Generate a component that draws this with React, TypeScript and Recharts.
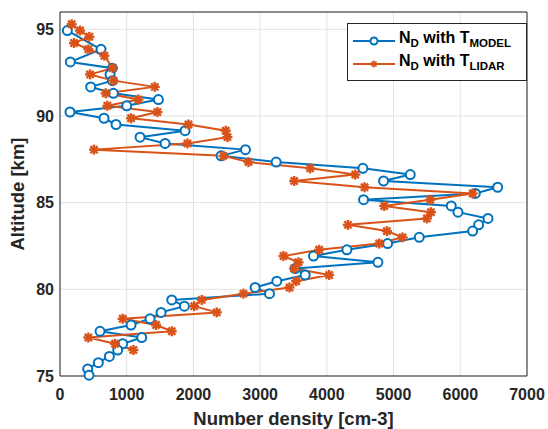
import React from 'react';
import { LineChart, Line, XAxis, YAxis, CartesianGrid, ReferenceArea } from 'recharts';

// altitude grid (km), top to bottom
const altitudes = [
  95.29, 94.93, 94.57, 94.21, 93.85, 93.48, 93.12, 92.76, 92.4, 92.04,
  91.68, 91.31, 90.95, 90.59, 90.23, 89.87, 89.51, 89.15, 88.78, 88.42,
  88.06, 87.7, 87.34, 86.98, 86.62, 86.25, 85.89, 85.53, 85.17, 84.81,
  84.45, 84.09, 83.72, 83.36, 83.0, 82.64, 82.28, 81.92, 81.56, 81.2,
  80.83, 80.47, 80.11, 79.75, 79.39, 79.03, 78.67, 78.3, 77.94, 77.58,
  77.22, 76.86, 76.5, 76.13, 75.77, 75.41, 75.05,
];

// N_D with T_MODEL
const densityModel = [
  null, 110, null, null, 615, null, 155, 785, 750, 785,
  460, 800, 1475, 1000, 150, 660, 840, 1875, 1200, 1575,
  2780, 2415, 3240, 4540, 5250, 4850, 6560, 6225, 4550, 5865,
  5965, 6415, 6275, 6185, 5385, 4910, 4300, 3800, 4765, 3525,
  3675, 3250, 2925, 3140, 1675, 1865, 1515, 1350, 1065, 600,
  1225, 940, 865, 740, 575, 415, 435,
];

// N_D with T_LIDAR
const densityLidar = [
  175, 300, 440, 210, 425, 665, null, 790, 450, 800,
  1420, 685, 1175, 710, 1460, 1065, 1925, 2485, 2510, 1910,
  510, 2450, 2825, 3750, 4425, 3510, 4565, 6185, 5550, 4860,
  5560, 5500, 4315, 4900, 5135, 4785, 3885, 3350, 3575, 3510,
  4035, 3540, 3440, 2750, 2125, 2010, 2350, 940, 1440, 1675,
  425, 825, 1100, null, null, null, null,
];

const xTicks = [0, 1000, 2000, 3000, 4000, 5000, 6000, 7000];
const yTicks = [75, 80, 85, 90, 95];

const BLUE = '#0072BD';
const ORANGE = '#D95319';
const INK = '#262626';

const data = altitudes.map((alt, i) => ({
  alt,
  model: densityModel[i],
  lidar: densityLidar[i],
}));

const StarDot = (props: any) => {
  const { cx, cy, index } = props;
  if (cx == null || cy == null || isNaN(cx)) return <g key={`s${index}`} />;
  const r = 5;
  const d = r * 0.72;
  return (
    <g key={`s${index}`} stroke={ORANGE} strokeWidth={2.4}>
      <line x1={cx - r} y1={cy} x2={cx + r} y2={cy} />
      <line x1={cx} y1={cy - r} x2={cx} y2={cy + r} />
      <line x1={cx - d} y1={cy - d} x2={cx + d} y2={cy + d} />
      <line x1={cx - d} y1={cy + d} x2={cx + d} y2={cy - d} />
    </g>
  );
};

const tickStyle = { fill: INK, fontSize: 16, fontWeight: 700 };
const innerTick = { stroke: INK, strokeWidth: 1 };
const noLabel = () => <g />;

const LegendRow = ({ color, star, sub }: { color: string; star: boolean; sub: string }) => (
  <div style={{ display: 'flex', alignItems: 'center', height: 23 }}>
    <svg width={46} height={12} style={{ marginRight: 2 }}>
      <line x1={2} y1={6} x2={44} y2={6} stroke={color} strokeWidth={2} />
      {star ? (
        <g stroke={color} strokeWidth={1.6}>
          <line x1={19.5} y1={6} x2={26.5} y2={6} />
          <line x1={23} y1={2.5} x2={23} y2={9.5} />
          <line x1={20.5} y1={3.5} x2={25.5} y2={8.5} />
          <line x1={20.5} y1={8.5} x2={25.5} y2={3.5} />
        </g>
      ) : (
        <circle cx={23} cy={6} r={3.5} fill="#fff" stroke={color} strokeWidth={2} />
      )}
    </svg>
    <span style={{ fontSize: 16, fontWeight: 700, color: '#000', whiteSpace: 'nowrap', lineHeight: '16px' }}>
      N<sub style={{ fontSize: 11.5, verticalAlign: '-4px' }}>D</sub> with T<sub style={{ fontSize: 11.5, verticalAlign: '-4px' }}>{sub}</sub>
    </span>
  </div>
);

const App: React.FC = () => {
  return (
    <div
      style={{
        position: 'absolute',
        left: 0,
        top: 0,
        width: 548,
        height: 429,
        background: '#fff',
        fontFamily: '"Liberation Sans", Arial, sans-serif',
      }}
    >
      <LineChart
        width={548}
        height={429}
        data={data}
        layout="vertical"
        margin={{ top: 12, right: 21, bottom: 0, left: 0 }}
      >
        <CartesianGrid stroke="#e2e2e2" />
        <XAxis
          type="number"
          dataKey="model"
          domain={[0, 7000]}
          ticks={xTicks}
          height={53}
          tickSize={0}
          tickMargin={13}
          axisLine={false}
          tick={tickStyle}
          label={{ value: 'Number density [cm-3]', position: 'insideBottom', offset: 4, fill: INK, fontSize: 18.5, fontWeight: 700 }}
        />
        <YAxis
          type="number"
          dataKey="alt"
          domain={[75, 96]}
          ticks={yTicks}
          reversed
          width={60}
          tickSize={0}
          tickMargin={6}
          axisLine={false}
          tick={tickStyle}
          label={{ value: 'Altitude [km]', angle: -90, position: 'center', dx: -13, fill: INK, fontSize: 18.5, fontWeight: 700 }}
        />
        {/* inward tick marks on all four sides */}
        <XAxis xAxisId="bIn" type="number" domain={[0, 7000]} ticks={xTicks} orientation="bottom" mirror tick={noLabel} tickSize={5} tickLine={innerTick} axisLine={false} />
        <XAxis xAxisId="tIn" type="number" domain={[0, 7000]} ticks={xTicks} orientation="top" mirror tick={noLabel} tickSize={5} tickLine={innerTick} axisLine={false} />
        <YAxis yAxisId="lIn" type="number" domain={[75, 96]} ticks={yTicks} reversed orientation="left" mirror tick={noLabel} tickSize={5} tickLine={innerTick} axisLine={false} />
        <YAxis yAxisId="rIn" type="number" domain={[75, 96]} ticks={yTicks} reversed orientation="right" mirror tick={noLabel} tickSize={5} tickLine={innerTick} axisLine={false} />
        <Line
          dataKey="model"
          stroke={BLUE}
          strokeWidth={2}
          dot={{ r: 4.5, fill: '#fff', stroke: BLUE, strokeWidth: 2 }}
          connectNulls={false}
          isAnimationActive={false}
        />
        <Line
          dataKey="lidar"
          stroke={ORANGE}
          strokeWidth={2}
          dot={StarDot}
          connectNulls
          isAnimationActive={false}
        />
        <ReferenceArea x1={0} x2={7000} y1={75} y2={96} fill="none" stroke={INK} strokeWidth={1} ifOverflow="visible" />
      </LineChart>
      <div
        style={{
          position: 'absolute',
          left: 347,
          top: 23,
          width: 175,
          height: 51,
          border: `1px solid ${INK}`,
          background: '#fff',
          boxSizing: 'content-box',
          paddingTop: 5,
          paddingLeft: 3,
        }}
      >
        <LegendRow color={BLUE} star={false} sub="MODEL" />
        <LegendRow color={ORANGE} star sub="LIDAR" />
      </div>
    </div>
  );
};

export default App;
